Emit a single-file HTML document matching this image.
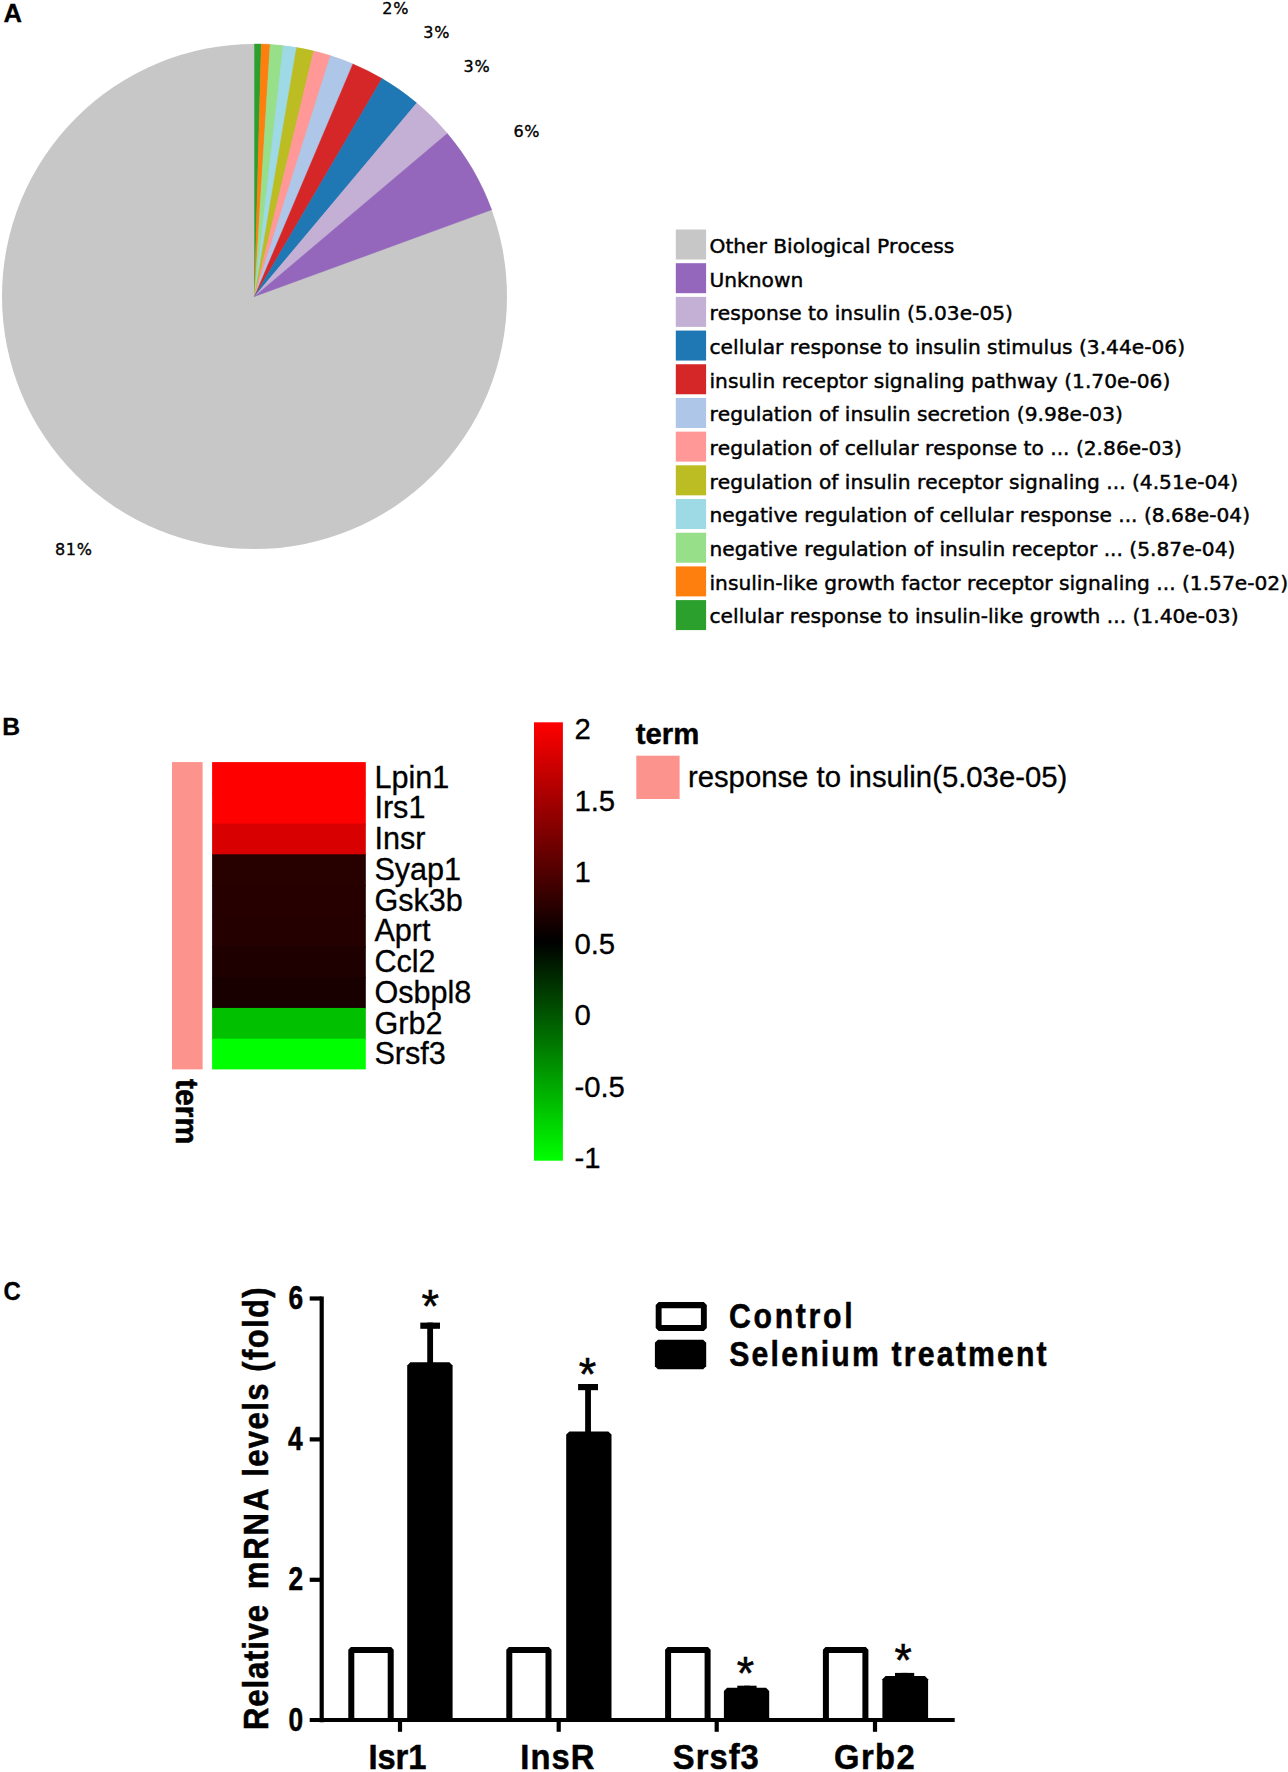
<!DOCTYPE html>
<html lang="en"><head><meta charset="utf-8"><title>Figure</title>
<style>html,body{margin:0;padding:0;background:#fff}svg{display:block}text{font-kerning:none}.dj{font-family:"DejaVu Sans","Liberation Sans",sans-serif}.ar{font-family:"Liberation Sans",Arial,Helvetica,sans-serif}.b{font-weight:bold}</style></head><body>
<svg width="1288" height="1772" viewBox="0 0 1288 1772">
<rect width="1288" height="1772" fill="#fff"/>
<text class="ar b" font-size="25.6" transform="translate(3.43,21.70) scale(1.0,1.0)" letter-spacing="0.000" stroke="#000" stroke-width="0.3">A</text>
<text class="ar b" font-size="24.7" transform="translate(2.27,734.90) scale(1.0,1.0)" letter-spacing="0.000" stroke="#000" stroke-width="0.3">B</text>
<text class="ar b" font-size="25.4" transform="translate(3.54,1299.70) scale(0.94,1.0)" letter-spacing="0.000" stroke="#000" stroke-width="0.3">C</text>
<g>
<circle cx="254.5" cy="296.5" r="252.5" fill="#c7c7c7"/>
<path d="M254.5 296.5L254.50 44.00A252.5 252.5 0 0 1 261.29 44.09Z" fill="#2ca02c" stroke="#2ca02c" stroke-width="0.4"/>
<path d="M254.5 296.5L261.29 44.09A252.5 252.5 0 0 1 270.09 44.48Z" fill="#ff7f0e" stroke="#ff7f0e" stroke-width="0.4"/>
<path d="M254.5 296.5L270.09 44.48A252.5 252.5 0 0 1 283.22 45.64Z" fill="#98df8a" stroke="#98df8a" stroke-width="0.4"/>
<path d="M254.5 296.5L283.22 45.64A252.5 252.5 0 0 1 296.57 47.53Z" fill="#9edae5" stroke="#9edae5" stroke-width="0.4"/>
<path d="M254.5 296.5L296.57 47.53A252.5 252.5 0 0 1 313.70 51.04Z" fill="#bcbd22" stroke="#bcbd22" stroke-width="0.4"/>
<path d="M254.5 296.5L313.70 51.04A252.5 252.5 0 0 1 330.47 55.70Z" fill="#ff9896" stroke="#ff9896" stroke-width="0.4"/>
<path d="M254.5 296.5L330.47 55.70A252.5 252.5 0 0 1 352.92 63.97Z" fill="#aec7e8" stroke="#aec7e8" stroke-width="0.4"/>
<path d="M254.5 296.5L352.92 63.97A252.5 252.5 0 0 1 382.01 78.56Z" fill="#d62728" stroke="#d62728" stroke-width="0.4"/>
<path d="M254.5 296.5L382.01 78.56A252.5 252.5 0 0 1 416.74 103.02Z" fill="#1f77b4" stroke="#1f77b4" stroke-width="0.4"/>
<path d="M254.5 296.5L416.74 103.02A252.5 252.5 0 0 1 447.30 133.45Z" fill="#c5b0d5" stroke="#c5b0d5" stroke-width="0.4"/>
<path d="M254.5 296.5L447.30 133.45A252.5 252.5 0 0 1 491.67 209.85Z" fill="#9467bd" stroke="#9467bd" stroke-width="0.4"/>
</g>
<g class="dj" font-size="16" fill="#000" stroke="#000" stroke-width="0.35" letter-spacing="0.8">
<text x="382.2" y="14.0">2%</text>
<text x="423.2" y="38.4">3%</text>
<text x="463.5" y="72.2">3%</text>
<text x="513.4" y="137.1">6%</text>
<text x="54.9" y="555.3">81%</text>
</g>
<g class="dj" font-size="20.2" fill="#000" stroke="#000" stroke-width="0.45">
<rect x="675.8" y="229.50" width="30.3" height="30" fill="#c7c7c7" stroke="none"/>
<text x="709.5" y="252.90">Other Biological Process</text>
<rect x="675.8" y="263.19" width="30.3" height="30" fill="#9467bd" stroke="none"/>
<text x="709.5" y="286.59">Unknown</text>
<rect x="675.8" y="296.88" width="30.3" height="30" fill="#c5b0d5" stroke="none"/>
<text x="709.5" y="320.28">response to insulin (5.03e-05)</text>
<rect x="675.8" y="330.57" width="30.3" height="30" fill="#1f77b4" stroke="none"/>
<text x="709.5" y="353.97">cellular response to insulin stimulus (3.44e-06)</text>
<rect x="675.8" y="364.26" width="30.3" height="30" fill="#d62728" stroke="none"/>
<text x="709.5" y="387.66">insulin receptor signaling pathway (1.70e-06)</text>
<rect x="675.8" y="397.95" width="30.3" height="30" fill="#aec7e8" stroke="none"/>
<text x="709.5" y="421.35">regulation of insulin secretion (9.98e-03)</text>
<rect x="675.8" y="431.64" width="30.3" height="30" fill="#ff9896" stroke="none"/>
<text x="709.5" y="455.04">regulation of cellular response to ... (2.86e-03)</text>
<rect x="675.8" y="465.33" width="30.3" height="30" fill="#bcbd22" stroke="none"/>
<text x="709.5" y="488.73">regulation of insulin receptor signaling ... (4.51e-04)</text>
<rect x="675.8" y="499.02" width="30.3" height="30" fill="#9edae5" stroke="none"/>
<text x="709.5" y="522.42">negative regulation of cellular response ... (8.68e-04)</text>
<rect x="675.8" y="532.71" width="30.3" height="30" fill="#98df8a" stroke="none"/>
<text x="709.5" y="556.11">negative regulation of insulin receptor ... (5.87e-04)</text>
<rect x="675.8" y="566.40" width="30.3" height="30" fill="#ff7f0e" stroke="none"/>
<text x="709.5" y="589.80">insulin-like growth factor receptor signaling ... (1.57e-02)</text>
<rect x="675.8" y="600.09" width="30.3" height="30" fill="#2ca02c" stroke="none"/>
<text x="709.5" y="623.49">cellular response to insulin-like growth ... (1.40e-03)</text>
</g>
<rect x="172" y="762.1" width="30.6" height="307.3" fill="#fc938c"/>
<rect x="212.1" y="762.10" width="153.7" height="31.73" fill="#fe0000"/>
<rect x="212.1" y="792.83" width="153.7" height="31.73" fill="#fe0000"/>
<rect x="212.1" y="823.56" width="153.7" height="31.73" fill="#d80000"/>
<rect x="212.1" y="854.29" width="153.7" height="31.73" fill="#270000"/>
<rect x="212.1" y="885.02" width="153.7" height="31.73" fill="#260000"/>
<rect x="212.1" y="915.75" width="153.7" height="31.73" fill="#250000"/>
<rect x="212.1" y="946.48" width="153.7" height="31.73" fill="#1e0000"/>
<rect x="212.1" y="977.21" width="153.7" height="31.73" fill="#180000"/>
<rect x="212.1" y="1007.94" width="153.7" height="31.73" fill="#00c000"/>
<rect x="212.1" y="1038.67" width="153.7" height="30.73" fill="#00ff00"/>
<g class="ar" font-size="30.6" fill="#000" stroke="#000" stroke-width="0.3">
<text x="374.4" y="787.70">Lpin1</text>
<text x="374.4" y="818.43">Irs1</text>
<text x="374.4" y="849.16">Insr</text>
<text x="374.4" y="879.89">Syap1</text>
<text x="374.4" y="910.62">Gsk3b</text>
<text x="374.4" y="941.35">Aprt</text>
<text x="374.4" y="972.08">Ccl2</text>
<text x="374.4" y="1002.81">Osbpl8</text>
<text x="374.4" y="1033.54">Grb2</text>
<text x="374.4" y="1064.27">Srsf3</text>
</g>
<text class="ar b" font-size="29.3" transform="translate(176.4,1078.9) rotate(90) scale(1.03,1.06)" stroke="#000" stroke-width="0.5">term</text>
<defs><linearGradient id="cb" x1="0" y1="0" x2="0" y2="1"><stop offset="0" stop-color="#ff0000"/><stop offset="0.5" stop-color="#000000"/><stop offset="1" stop-color="#00ff00"/></linearGradient></defs>
<rect x="534" y="722.3" width="28.9" height="438.4" fill="url(#cb)"/>
<text class="ar" font-size="29.3" transform="translate(574.4,739.30) scale(1,0.985)" stroke="#000" stroke-width="0.3">2</text>
<text class="ar" font-size="29.3" transform="translate(574.4,810.83) scale(1,0.985)" stroke="#000" stroke-width="0.3">1.5</text>
<text class="ar" font-size="29.3" transform="translate(574.4,882.36) scale(1,0.985)" stroke="#000" stroke-width="0.3">1</text>
<text class="ar" font-size="29.3" transform="translate(574.4,953.89) scale(1,0.985)" stroke="#000" stroke-width="0.3">0.5</text>
<text class="ar" font-size="29.3" transform="translate(574.4,1025.42) scale(1,0.985)" stroke="#000" stroke-width="0.3">0</text>
<text class="ar" font-size="29.3" transform="translate(574.4,1096.95) scale(1,0.985)" stroke="#000" stroke-width="0.3">-0.5</text>
<text class="ar" font-size="29.3" transform="translate(574.4,1168.48) scale(1,0.985)" stroke="#000" stroke-width="0.3">-1</text>
<text class="ar b" font-size="29.3" transform="translate(635.8,743.9) scale(1,1.0)" stroke="#000" stroke-width="0.4">term</text>
<rect x="636.3" y="755.7" width="43.3" height="43.3" fill="#fc938c"/>
<text class="ar" font-size="29.3" transform="translate(687.9,786.9) scale(1,1.03)" stroke="#000" stroke-width="0.3">response to insulin(5.03e-05)</text>
<path d="M348.30 1720.0V1649.70L350.90 1647.10H391.10L393.70 1649.70V1720.0H387.70V1653.10H354.30V1720.0Z" fill="#000"/>
<path d="M407.20 1720.0V1365.50L410.40 1362.30H449.40L452.60 1365.50V1720.0Z" fill="#000"/>
<rect x="427.25" y="1322.60" width="5.8" height="40.70" fill="#000"/>
<rect x="420.30" y="1322.60" width="19.70" height="6.2" fill="#000"/>
<path d="M506.30 1720.0V1649.70L508.90 1647.10H548.90L551.50 1649.70V1720.0H545.50V1653.10H512.30V1720.0Z" fill="#000"/>
<path d="M566.20 1720.0V1434.60L569.40 1431.40H608.30L611.50 1434.60V1720.0Z" fill="#000"/>
<rect x="585.15" y="1384.00" width="5.8" height="48.40" fill="#000"/>
<rect x="578.10" y="1384.00" width="19.90" height="6.2" fill="#000"/>
<path d="M665.10 1720.0V1649.70L667.70 1647.10H708.00L710.60 1649.70V1720.0H704.60V1653.10H671.10V1720.0Z" fill="#000"/>
<path d="M723.90 1720.0V1691.00L727.10 1687.80H766.00L769.20 1691.00V1720.0Z" fill="#000"/>
<rect x="744.05" y="1685.70" width="5.8" height="3.10" fill="#000"/>
<rect x="737.30" y="1685.70" width="19.30" height="6.2" fill="#000"/>
<path d="M822.90 1720.0V1649.70L825.50 1647.10H865.80L868.40 1649.70V1720.0H862.40V1653.10H828.90V1720.0Z" fill="#000"/>
<path d="M882.40 1720.0V1679.20L885.60 1676.00H924.90L928.10 1679.20V1720.0Z" fill="#000"/>
<rect x="901.70" y="1672.90" width="5.8" height="4.10" fill="#000"/>
<rect x="895.00" y="1672.90" width="19.20" height="6.2" fill="#000"/>
<g fill="none" stroke="#000" stroke-width="4.2">
<path d="M321.7 1296.40V1722.20"/>
<path d="M309.7 1720.0H954.7"/>
<path d="M309.7 1579.80H321.5" stroke-width="4.2"/>
<path d="M309.7 1439.40H321.5" stroke-width="4.2"/>
<path d="M309.7 1298.50H321.5" stroke-width="4.2"/>
<path d="M400 1720.0V1731.8"/>
<path d="M558.7 1720.0V1731.8"/>
<path d="M716.7 1720.0V1731.8"/>
<path d="M875.0 1720.0V1731.8"/>
</g>
<text class="ar" font-size="49.5" transform="translate(421.50,1322.25) scale(0.9062049062049037,0.95)" letter-spacing="0.000" stroke="#000" stroke-width="0.6">*</text>
<text class="ar" font-size="49.5" transform="translate(578.80,1389.75) scale(0.9062049062049102,0.95)" letter-spacing="0.000" stroke="#000" stroke-width="0.6">*</text>
<text class="ar" font-size="49.5" transform="translate(736.71,1688.85) scale(0.9004329004329031,0.95)" letter-spacing="0.000" stroke="#000" stroke-width="0.6">*</text>
<text class="ar" font-size="49.5" transform="translate(894.61,1676.45) scale(0.8946608946608895,0.95)" letter-spacing="0.000" stroke="#000" stroke-width="0.6">*</text>
<text class="ar b" font-size="32.3" transform="translate(288.40,1309.15) scale(0.815,1.03)" letter-spacing="0.000" stroke="#000" stroke-width="0.5">6</text>
<text class="ar b" font-size="32.3" transform="translate(287.97,1450.05) scale(0.815,1.03)" letter-spacing="0.000" stroke="#000" stroke-width="0.5">4</text>
<text class="ar b" font-size="32.3" transform="translate(288.61,1590.45) scale(0.815,1.03)" letter-spacing="0.000" stroke="#000" stroke-width="0.5">2</text>
<text class="ar b" font-size="32.3" transform="translate(288.40,1730.65) scale(0.815,1.03)" letter-spacing="0.000" stroke="#000" stroke-width="0.5">0</text>
<text class="ar b" font-size="35.6" transform="translate(368.41,1769.20) scale(0.92,1.01)" letter-spacing="-0.117" stroke="#000" stroke-width="0.5">Isr1</text>
<text class="ar b" font-size="35.6" transform="translate(520.21,1769.20) scale(0.92,1.01)" letter-spacing="1.197" stroke="#000" stroke-width="0.5">InsR</text>
<text class="ar b" font-size="35.6" transform="translate(672.82,1769.20) scale(0.92,1.01)" letter-spacing="1.118" stroke="#000" stroke-width="0.5">Srsf3</text>
<text class="ar b" font-size="35.6" transform="translate(834.09,1769.20) scale(0.92,1.01)" letter-spacing="1.488" stroke="#000" stroke-width="0.5">Grb2</text>
<text class="ar b" font-size="35.2" transform="translate(268,1728.1) rotate(-90) scale(0.885,1)" stroke="#000" stroke-width="0.5"><tspan x="-2.18" letter-spacing="0.921">Relative </tspan><tspan x="156.80" letter-spacing="2.147">mRNA </tspan><tspan x="284.03" letter-spacing="1.497">levels </tspan><tspan x="402.70" letter-spacing="1.499">(fold)</tspan></text>
<path d="M658.70 1302.10H703.80L706.80 1305.10V1328.00L703.80 1331.00H658.70L655.70 1328.00V1305.10ZM661.60 1308.20V1325.10H700.90V1308.20Z" fill="#000" fill-rule="evenodd"/>
<path d="M657.90 1339.70H703.20L706.20 1342.70V1366.20L703.20 1369.20H657.90L654.90 1366.20V1342.70Z" fill="#000"/>
<text class="ar b" font-size="35.6" transform="translate(728.99,1328.40) scale(0.85,1.01)" letter-spacing="3.158" stroke="#000" stroke-width="0.5">Control</text>
<text class="ar b" font-size="35.6" transform="translate(729.29,1365.90) scale(0.85,1.01)" letter-spacing="2.533" stroke="#000" stroke-width="0.5">Selenium treatment</text>
</svg></body></html>
